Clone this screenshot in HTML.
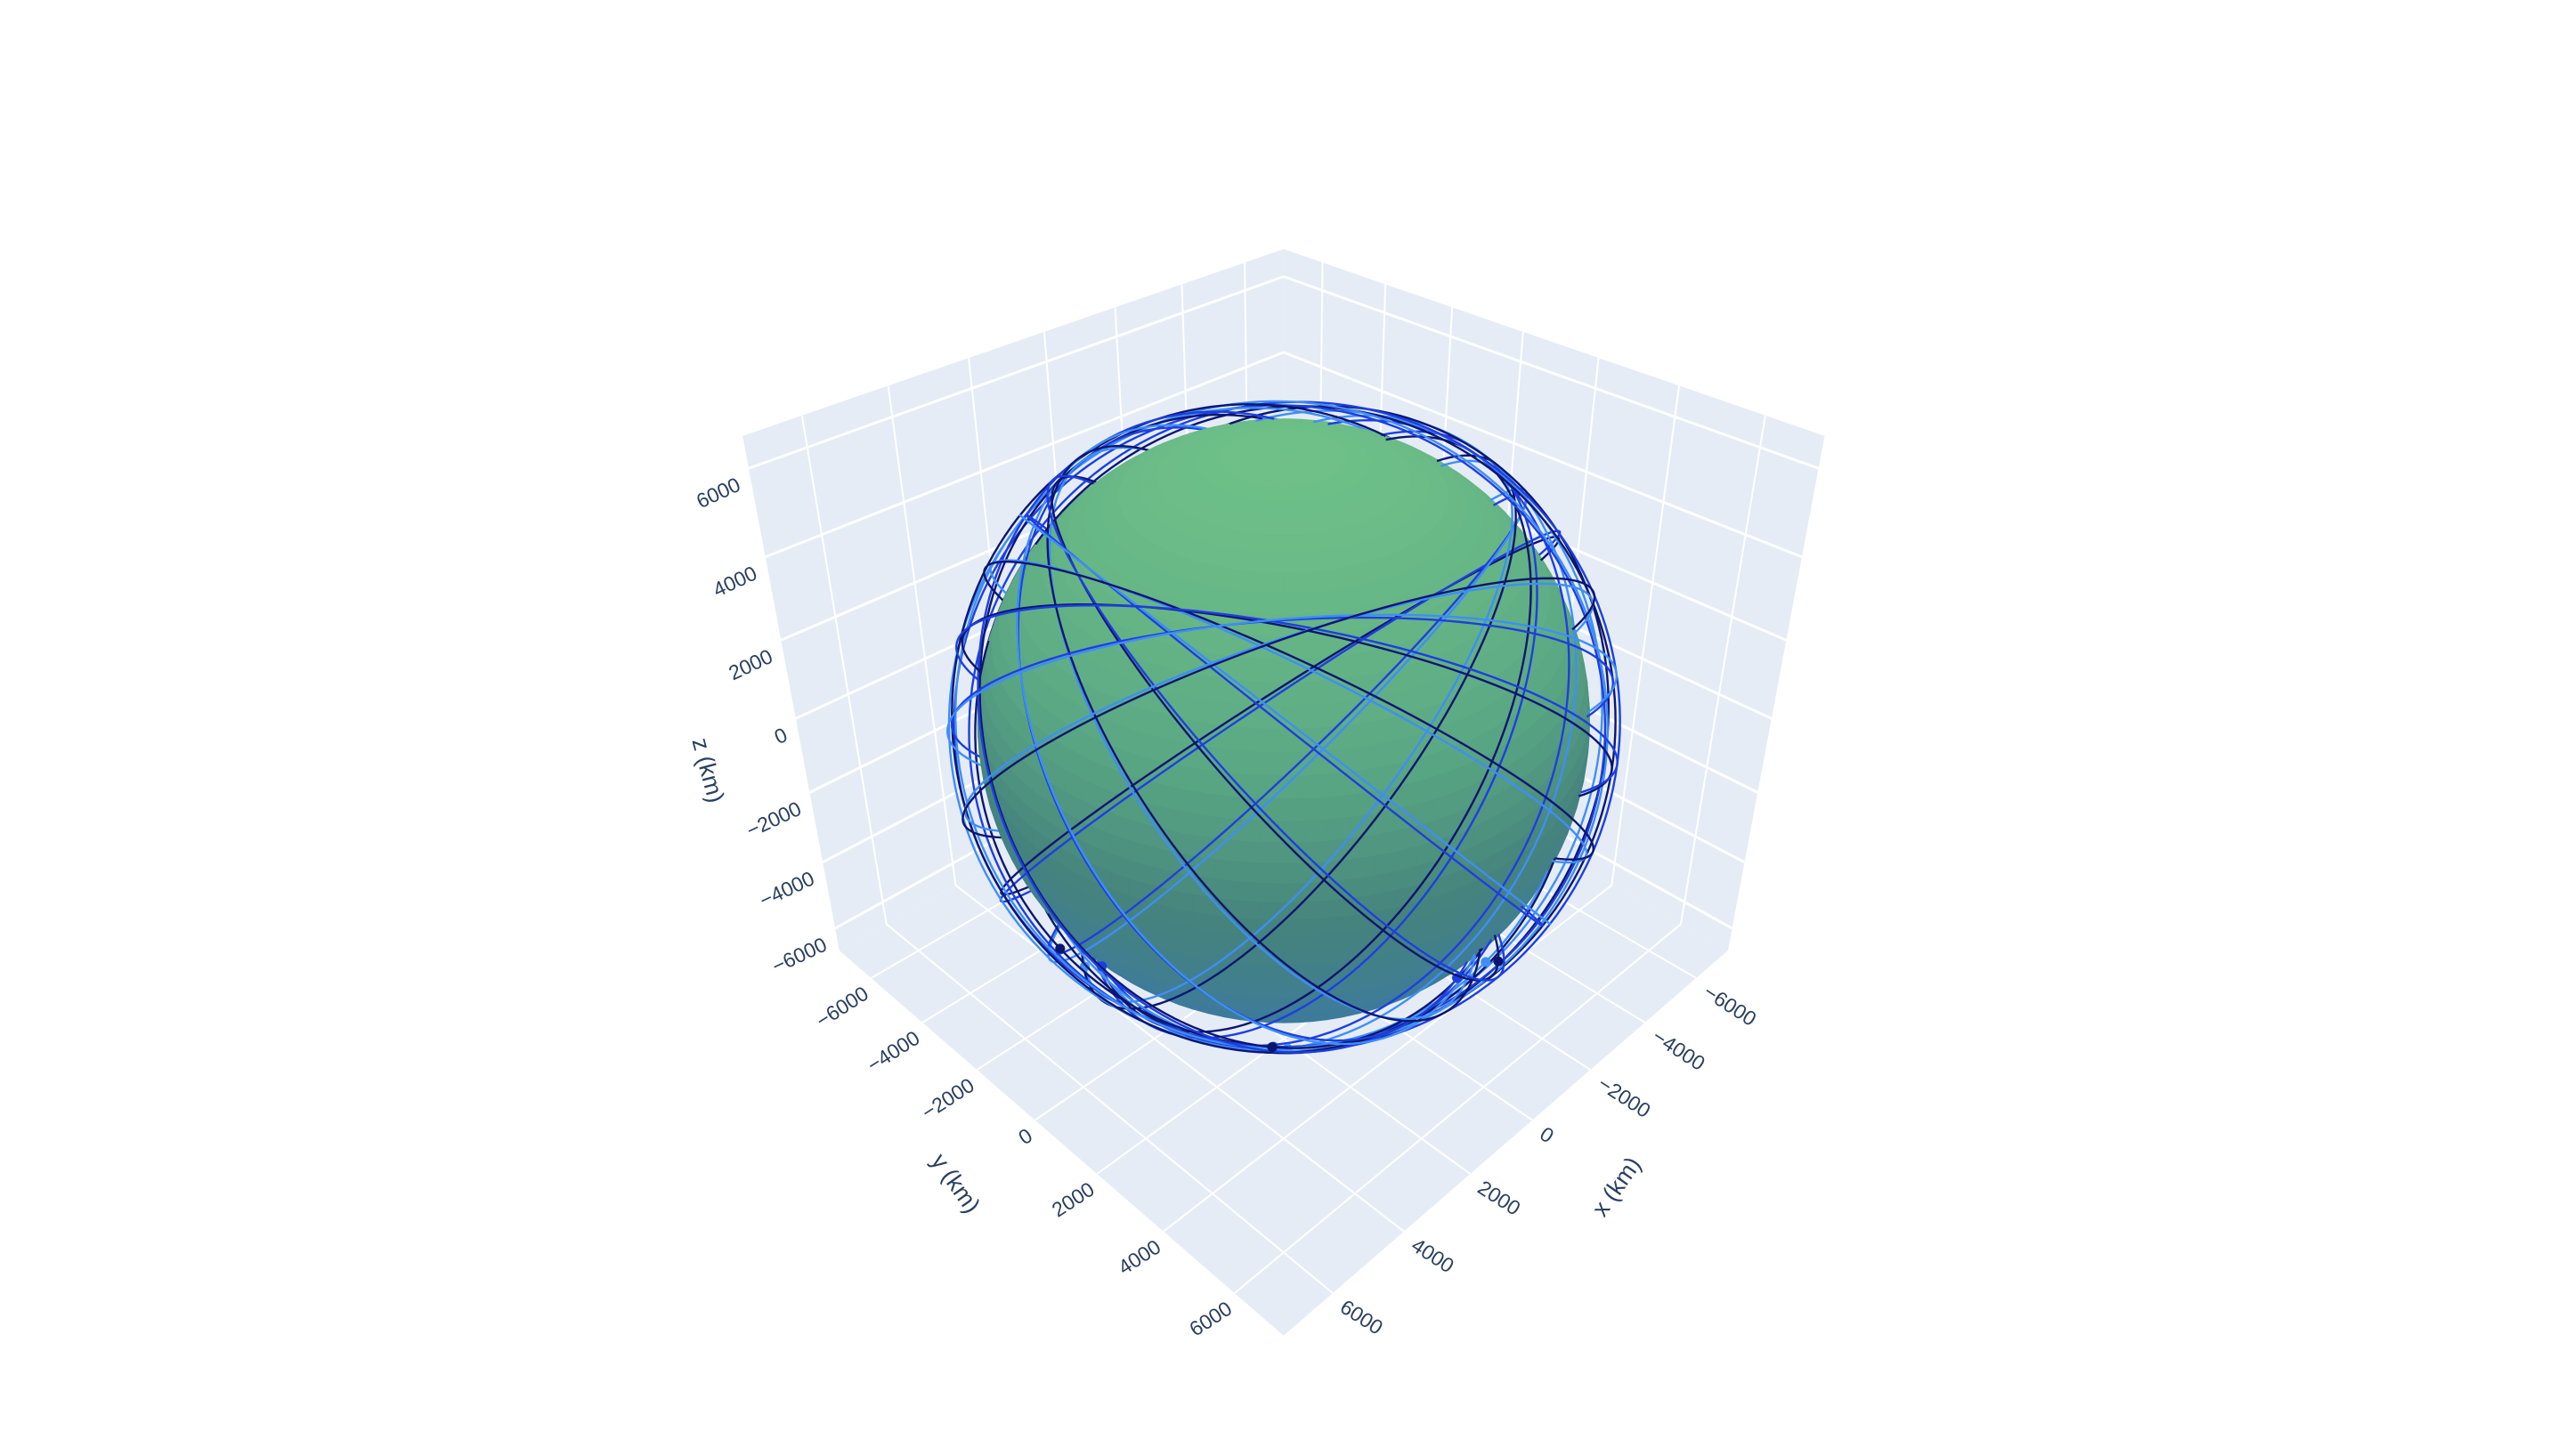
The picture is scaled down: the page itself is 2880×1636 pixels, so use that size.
<!DOCTYPE html>
<html><head><meta charset="utf-8"><style>
html,body{margin:0;padding:0;background:#fff;}
svg{display:block;font-family:"Liberation Sans",sans-serif;}
</style></head>
<body>
<svg id="chart" width="2880" height="1636" viewBox="0 0 1564 888.4" xmlns="http://www.w3.org/2000/svg">
<g id="panes"></g>
<g id="grid"></g>
<g id="back"></g>
<g id="earth"></g>
<g id="front"></g>
<g id="labels"></g>
</svg>
<script>
// ---- data ----
const tickValues = [-6000, -4000, -2000, 0, 2000, 4000, 6000];
const tickLabels = ["\u22126000", "\u22124000", "\u22122000", "0", "2000", "4000", "6000"];
const planeRAAN = [0, 20, 40, 60, 80, 100, 120, 140, 160, 180, 200, 220, 240, 260, 280, 300, 320, 340];
const planeIncl = [50, 50, 50, 50, 50, 50, 50, 50, 50, 50, 50, 50, 50, 50, 50, 50, 50, 50];
const orbitRadius = [6900, 6990];
const satAnomaly = [235, 265, 295];
const earthRadius = 6378;
const rangeXY = 7300, rangeZ = 6700;
const colors = ["#0b1670", "#1d3fe0", "#3f8ef5"];

const NS = "http://www.w3.org/2000/svg";
function mk(tag, attrs, parent){const e=document.createElementNS(NS,tag);for(const k in attrs)e.setAttribute(k,attrs[k]);parent.appendChild(e);return e;}

// ---- projection fit (DLT) ----
const corr = [
 [[1,-1,-1],[512,580]],[[1,1,-1],[783,815]],[[-1,1,-1],[1054,580]],
 [[-1,-1,1],[783,152]],[[1,-1,1],[453,266]],[[-1,1,1],[1113,266]]
];
function solve(M,b){const n=b.length;const A=M.map((r,i)=>r.concat([b[i]]));
 for(let i=0;i<n;i++){let p=i;for(let r=i+1;r<n;r++)if(Math.abs(A[r][i])>Math.abs(A[p][i]))p=r;[A[i],A[p]]=[A[p],A[i]];
  for(let r=0;r<n;r++){if(r===i)continue;const f=A[r][i]/A[i][i];for(let c=i;c<=n;c++)A[r][c]-=f*A[i][c];}}
 return A.map((r,i)=>r[n]/r[i]);}
const rows=[],rhs=[];
corr.forEach(([P,[u,v]])=>{const [X,Y,Z]=P;
 rows.push([X,Y,Z,1,0,0,0,0,-u*X,-u*Y,-u*Z]);rhs.push(u);
 rows.push([0,0,0,0,X,Y,Z,1,-v*X,-v*Y,-v*Z]);rhs.push(v);});
const NtN=[],Ntb=[];
for(let i=0;i<11;i++){NtN.push([]);let s=0;for(let k=0;k<rows.length;k++)s+=rows[k][i]*rhs[k];Ntb.push(s);
 for(let j=0;j<11;j++){let t=0;for(let k=0;k<rows.length;k++)t+=rows[k][i]*rows[k][j];NtN[i].push(t);}}
const p=solve(NtN,Ntb);
function projN(X,Y,Z){const w=p[8]*X+p[9]*Y+p[10]*Z+1;return [(p[0]*X+p[1]*Y+p[2]*Z+p[3])/w,(p[4]*X+p[5]*Y+p[6]*Z+p[7])/w];}
function proj(x,y,z){return projN(x/rangeXY,y/rangeXY,z/rangeZ);}
const camN=solve([[p[0],p[1],p[2]],[p[4],p[5],p[6]],[p[8],p[9],p[10]]],[-p[3],-p[7],-1]);
const cam=[camN[0]*rangeXY,camN[1]*rangeXY,camN[2]*rangeZ];
function hidden(q){const d=[q[0]-cam[0],q[1]-cam[1],q[2]-cam[2]];
 const a=d[0]*d[0]+d[1]*d[1]+d[2]*d[2],b=2*(cam[0]*d[0]+cam[1]*d[1]+cam[2]*d[2]),c=cam[0]*cam[0]+cam[1]*cam[1]+cam[2]*cam[2]-earthRadius*earthRadius;
 const disc=b*b-4*a*c;if(disc<=0)return false;const t=(-b-Math.sqrt(disc))/(2*a);return t>0&&t<0.999;}
const pt=a=>a[0].toFixed(2)+","+a[1].toFixed(2);

// ---- panes ----
const panes=document.getElementById("panes");
const paneDefs=[["left-wall",[[1,-1,-1],[1,-1,1],[-1,-1,1],[-1,-1,-1]]],["right-wall",[[-1,-1,-1],[-1,-1,1],[-1,1,1],[-1,1,-1]]],["floor",[[1,-1,-1],[1,1,-1],[-1,1,-1],[-1,-1,-1]]]];
paneDefs.forEach(([nm,cs])=>{
 const e=mk("polygon",{points:cs.map(c=>pt(projN(...c))).join(" "),fill:"#E5ECF6"},panes);
 
 
});
// ---- grid ----
const grid=document.getElementById("grid");
function gline(a,b,nm,w){const e=mk("line",{x1:a[0],y1:a[1],x2:b[0],y2:b[1],stroke:"#fff","stroke-width":w},grid);
 
 }
tickValues.forEach(t=>{
 const tx=t/rangeXY,tz=t/rangeZ;
 gline(projN(tx,-1,-1),projN(tx,-1,1),"left-wall-x-gridline",1.1);
 gline(projN(1,-1,tz),projN(-1,-1,tz),"left-wall-z-gridline",1.6);
 gline(projN(-1,tx,-1),projN(-1,tx,1),"right-wall-y-gridline",1.1);
 gline(projN(-1,-1,tz),projN(-1,1,tz),"right-wall-z-gridline",1.6);
 gline(projN(tx,-1,-1),projN(tx,1,-1),"floor-x-gridline",1.1);
 gline(projN(1,tx,-1),projN(-1,tx,-1),"floor-y-gridline",1.1);
});

// ---- earth ----
const earth=document.getElementById("earth");
function earthColor(zn){const s=[[-1,[56,120,172]],[-0.45,[62,124,150]],[0,[70,132,124]],[0.45,[90,168,132]],[1,[110,192,136]]];
 for(let i=0;i<s.length-1;i++){if(zn<=s[i+1][0]){const f=(zn-s[i][0])/(s[i+1][0]-s[i][0]);
  return "rgb("+s[i][1].map((c,k)=>Math.round(c+f*(s[i+1][1][k]-c))).join(",")+")";}}return "rgb(110,192,136)";}
const NLAT=48,NLON=96;
for(let i=0;i<NLAT;i++){for(let j=0;j<NLON;j++){
 const la0=-Math.PI/2+Math.PI*i/NLAT,la1=la0+Math.PI/NLAT,lo0=2*Math.PI*j/NLON,lo1=lo0+2*Math.PI/NLON;
 const lm=(la0+la1)/2,om=(lo0+lo1)/2;
 const n=[Math.cos(lm)*Math.cos(om),Math.cos(lm)*Math.sin(om),Math.sin(lm)];
 const q=n.map(v=>v*earthRadius);
 if(n[0]*(cam[0]-q[0])+n[1]*(cam[1]-q[1])+n[2]*(cam[2]-q[2])<=0)continue;
 const P=(la,lo)=>proj(earthRadius*Math.cos(la)*Math.cos(lo),earthRadius*Math.cos(la)*Math.sin(lo),earthRadius*Math.sin(la));
 const col=earthColor(n[2]);
 const e=mk("polygon",{points:[P(la0,lo0),P(la0,lo1),P(la1,lo1),P(la1,lo0)].map(pt).join(" "),fill:col,stroke:col,"stroke-width":0.6},earth);
 
 
}}

// ---- orbits ----
const back=document.getElementById("back"),front=document.getElementById("front");
function orbitPos(r,raan,inc,u){const O=raan*Math.PI/180,I=inc*Math.PI/180,U=u*Math.PI/180;
 return [r*(Math.cos(O)*Math.cos(U)-Math.sin(O)*Math.sin(U)*Math.cos(I)),r*(Math.sin(O)*Math.cos(U)+Math.cos(O)*Math.sin(U)*Math.cos(I)),r*Math.sin(U)*Math.sin(I)];}
function drawOrbit(r,raan,inc,color,w){
 let seg=[],segHidden=null;
 const flush=()=>{if(seg.length>1){const e=mk("polyline",{points:seg.map(pt).join(" "),fill:"none",stroke:color,"stroke-width":w,"stroke-linejoin":"round"},segHidden?back:front);
  
  }};
 for(let k=0;k<=360;k+=2){const q=orbitPos(r,raan,inc,k);const h=hidden(q);const s=proj(...q);
  if(segHidden===null)segHidden=h;
  if(h!==segHidden){seg.push(s);flush();seg=[s];segHidden=h;}else seg.push(s);}
 flush();
}
function drawSats(r,raan,inc,color,u){const q=orbitPos(r,raan,inc,u);const h=hidden(q);const s=proj(...q);
 const e=mk("circle",{cx:s[0],cy:s[1],r:3,fill:color},h?back:front);
 
 }
planeRAAN.forEach((O,i)=>{orbitRadius.forEach((r,k)=>{drawOrbit(r,O+k*1.5,planeIncl[i],colors[(i+k)%3],1.3);});
 drawSats(orbitRadius[0],O,planeIncl[i],colors[i%3],satAnomaly[i%3]);});

// ---- labels ----
const labels=document.getElementById("labels");
function txt(s,x,y,rot,anchor,size,nm){const e=mk("text",{x:x,y:y,"text-anchor":anchor,"dominant-baseline":"central",fill:"#2a3f5f","font-size":size,transform:"rotate("+rot+" "+x+" "+y+")"},labels);
 e.textContent=s;
 
 }
tickValues.forEach((t,i)=>{
 const zp=projN(1,-1,t/rangeZ);txt(tickLabels[i],zp[0]-6,zp[1]+9,-25,"end",12.5,"z-tick-label");
 const yp=projN(1,t/rangeXY,-1);txt(tickLabels[i],yp[0]-3,yp[1]+8,-33,"end",12.5,"y-tick-label");
 const xp=projN(t/rangeXY,1,-1);txt(tickLabels[i],xp[0]+6,xp[1]+7,33,"start",12.5,"x-tick-label");
});
txt("z (km)",432,470,75,"middle",14.5,"z-axis-title");
txt("y (km)",583,722,55,"middle",14.5,"y-axis-title");
txt("x (km)",986,724,-55,"middle",14.5,"x-axis-title");
</script>
</body></html>
